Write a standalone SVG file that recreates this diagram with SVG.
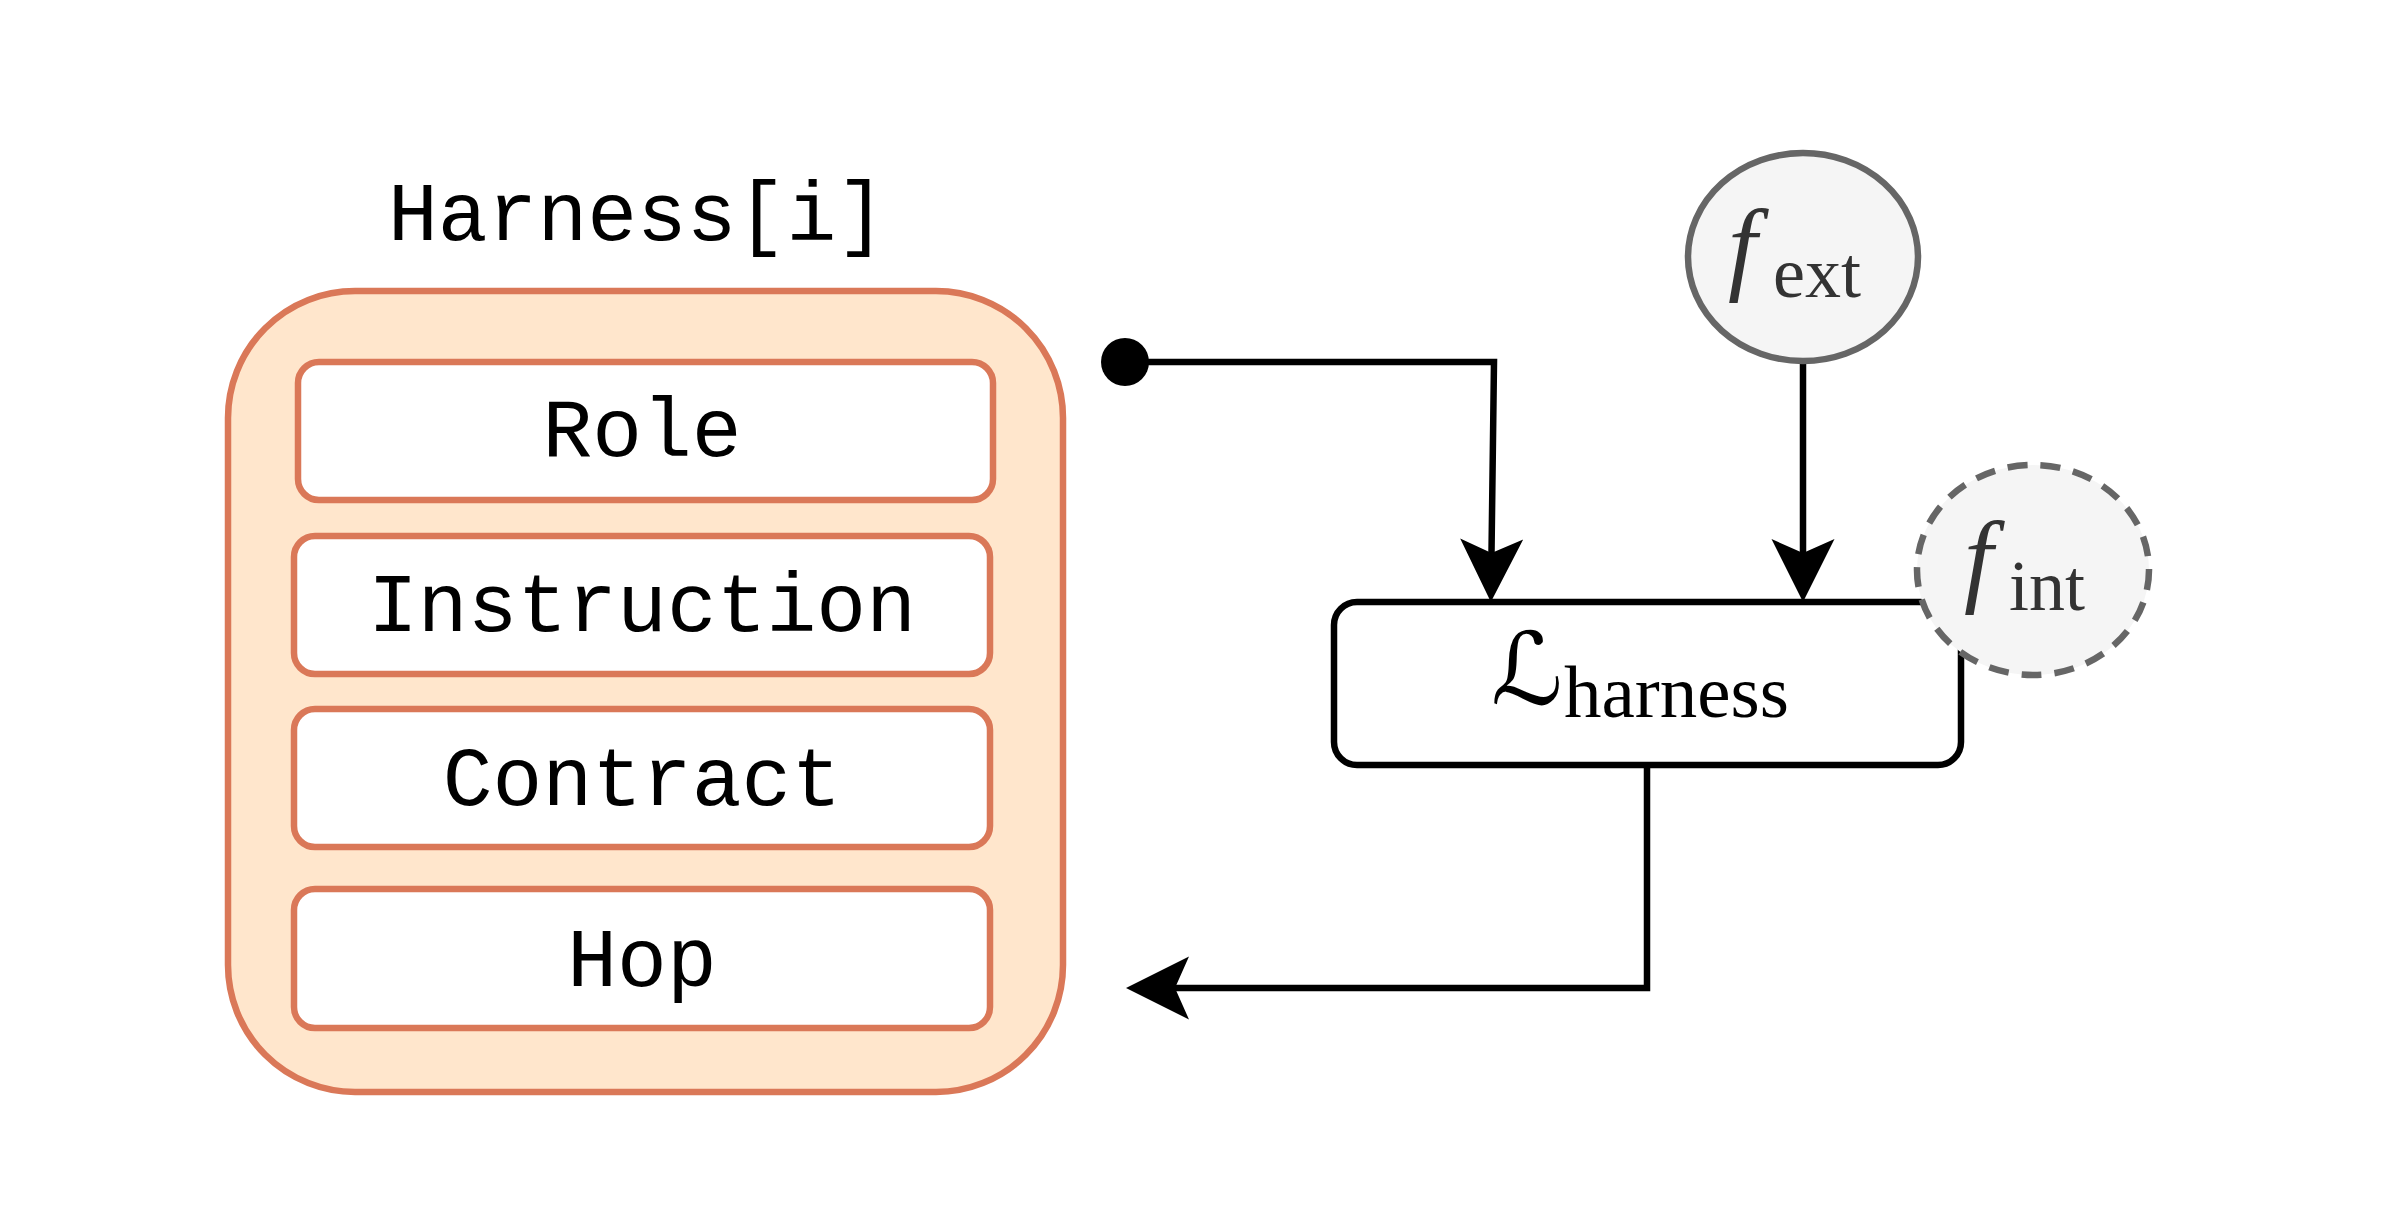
<svg xmlns="http://www.w3.org/2000/svg" width="2400" height="1218" viewBox="0 0 2400 1218">
<style>
.orange{fill:#FFE6CC;stroke:#DA7858;stroke-width:6.5}
.item{fill:#FFFFFF;stroke:#DA7858;stroke-width:6.5}
.mono{font-family:"Liberation Mono","DejaVu Sans Mono",monospace;font-size:83px;fill:#000;text-anchor:middle}
.conn{fill:none;stroke:#000;stroke-width:6.5}
.math{font-family:"Liberation Serif","Times New Roman",serif}
.circ{fill:#F5F5F5;stroke:#666666;stroke-width:6.5}
</style>
<defs>
<marker id="arr" markerUnits="userSpaceOnUse" viewBox="-20 -35 75 70" markerWidth="75" markerHeight="70" refX="0" refY="0" orient="auto" overflow="visible">
<path d="M49,0 L-14,-31.5 L0,0 L-14,31.5 Z" fill="#000"/>
</marker>
</defs>
<rect width="2400" height="1218" fill="#FFFFFF"/>
<g id="harness">
<text class="mono" x="637" y="240">Harness[i]</text>
<rect class="orange" x="228" y="291" width="835" height="801" rx="127" ry="127"/>
</g>
<g id="role">
<rect class="item" x="298" y="362" width="695" height="138" rx="21" ry="21"/>
<text class="mono" x="642" y="456">Role</text>
</g>
<g id="instruction">
<rect class="item" x="294" y="536" width="696" height="138" rx="21" ry="21"/>
<text class="mono" x="642" y="631">Instruction</text>
</g>
<g id="contract">
<rect class="item" x="294" y="709" width="696" height="138" rx="21" ry="21"/>
<text class="mono" x="642" y="805">Contract</text>
</g>
<g id="hop">
<rect class="item" x="294" y="889" width="696" height="139" rx="21" ry="21"/>
<text class="mono" x="642" y="986">Hop</text>
</g>
<g id="connectors">
<circle cx="1125" cy="362" r="24" fill="#000"/>
<path class="conn" d="M1125,362 L1494,362 L1491.5,553" marker-end="url(#arr)"/>
<path class="conn" d="M1803,360 L1803,553" marker-end="url(#arr)"/>
<path class="conn" d="M1647,765 L1647,988 L1175,988" marker-end="url(#arr)"/>
</g>
<g id="loss">
<rect x="1334" y="602" width="627" height="163" rx="23" ry="23" fill="#FFFFFF" stroke="#000" stroke-width="6.5"/>
<text class="math" fill="#000"><tspan x="1491" y="704" font-family="DejaVu Serif, DejaVu Sans, serif" font-style="italic" font-size="100">ℒ</tspan><tspan x="1564" y="717" font-size="75">harness</tspan></text>
</g>
<g id="fext">
<ellipse class="circ" cx="1803" cy="257" rx="115" ry="104"/>
<text class="math" fill="#333333"><tspan x="1728" y="281" font-style="italic" font-size="104">f</tspan><tspan x="1773" y="297" font-size="72">ext</tspan></text>
</g>
<g id="fint">
<ellipse class="circ" cx="2033" cy="570" rx="116" ry="105" stroke-dasharray="20 13"/>
<text class="math" fill="#333333"><tspan x="1964" y="593" font-style="italic" font-size="104">f</tspan><tspan x="2009" y="610" font-size="72">int</tspan></text>
</g>
</svg>
